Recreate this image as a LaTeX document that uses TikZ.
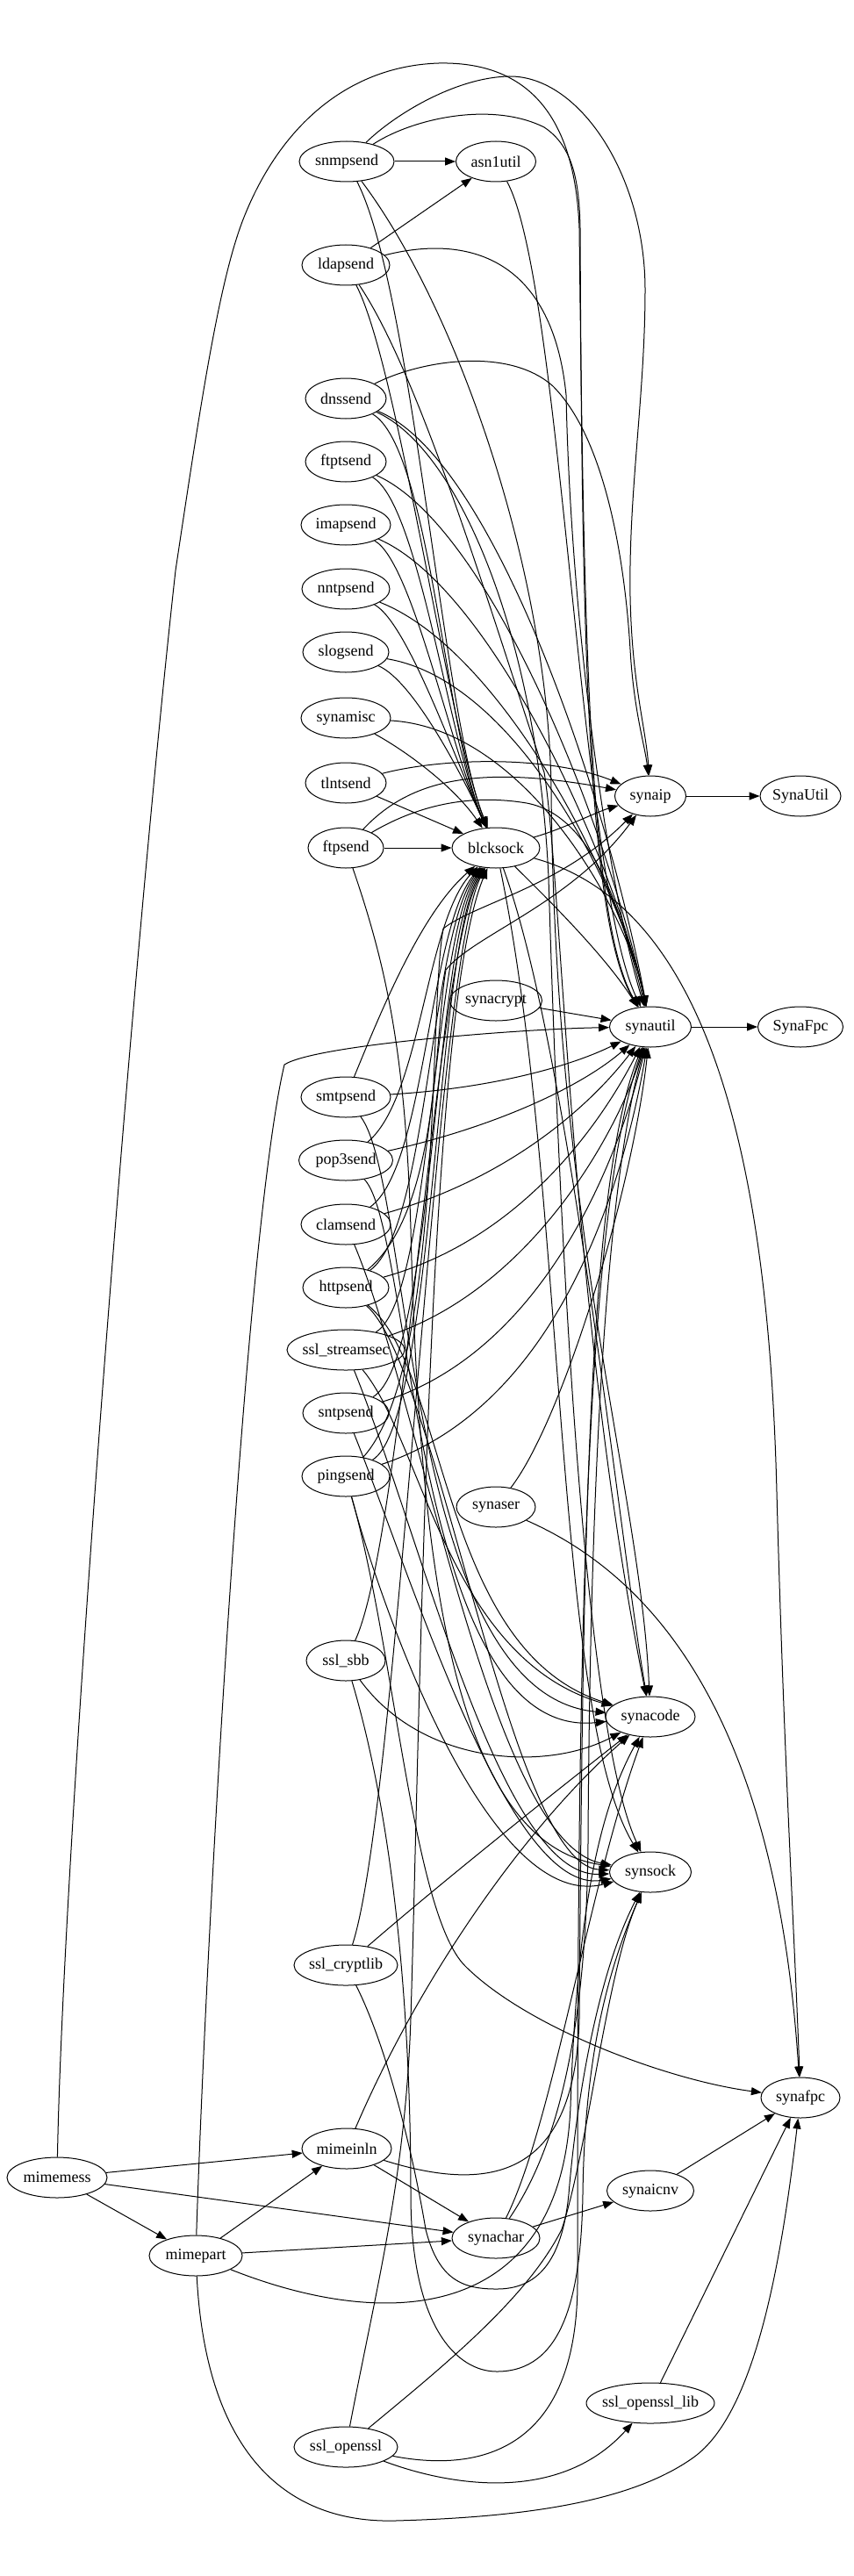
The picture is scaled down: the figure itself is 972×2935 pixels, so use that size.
\documentclass[tikz,border=0pt]{standalone}
\usepackage{fontspec}
\setmainfont{Liberation Serif}
\usetikzlibrary{arrows.meta,shapes.geometric}
\begin{document}
\begin{tikzpicture}[x=1pt,y=-1pt,
  nd/.style={ellipse,draw,line width=1pt,minimum height=46pt,inner xsep=-40pt,inner ysep=0pt,font=\fontsize{18}{20}\selectfont},
  e/.style={line width=1pt,-{Triangle[length=12pt,width=9pt]}}]
\fill[white] (0,0) rectangle (972,2935);
\useasboundingbox (0,0) rectangle (972,2935);
% nodes
\node[nd,minimum width=108pt] (snmpsend) at (395,184) {snmpsend};
\node[nd,minimum width=91pt] (asnutil) at (565,184) {asn1util};
\node[nd,minimum width=100pt] (ldapsend) at (394,302) {ldapsend};
\node[nd,minimum width=92pt] (dnssend) at (394,454) {dnssend};
\node[nd,minimum width=92pt] (ftptsend) at (394,526) {ftptsend};
\node[nd,minimum width=102pt] (imapsend) at (394,598) {imapsend};
\node[nd,minimum width=100pt] (nntpsend) at (394,671) {nntpsend};
\node[nd,minimum width=98pt] (slogsend) at (394,743) {slogsend};
\node[nd,minimum width=102pt] (synamisc) at (394,818) {synamisc};
\node[nd,minimum width=92pt] (tlntsend) at (394,892) {tlntsend};
\node[nd,minimum width=86pt] (ftpsend) at (394,966) {ftpsend};
\node[nd,minimum width=100pt] (blcksock) at (565,966) {blcksock};
\node[nd,minimum width=81pt] (synaip) at (741,907) {synaip};
\node[nd,minimum width=92pt] (SynaUtil) at (912,907) {SynaUtil};
\node[nd,minimum width=105pt] (synacrypt) at (565,1140) {synacrypt};
\node[nd,minimum width=93pt] (synautil) at (741,1170) {synautil};
\node[nd,minimum width=97pt] (SynaFpc) at (912,1170) {SynaFpc};
\node[nd,minimum width=102pt] (smtpsend) at (394,1250) {smtpsend};
\node[nd,minimum width=107pt] (pop3send) at (394,1322) {pop3send};
\node[nd,minimum width=102pt] (clamsend) at (394,1395) {clamsend};
\node[nd,minimum width=98pt] (httpsend) at (394,1467) {httpsend};
\node[nd,minimum width=134pt] (sslstreamsec) at (394,1538) {ssl\_streamsec};
\node[nd,minimum width=98pt] (sntpsend) at (394,1610) {sntpsend};
\node[nd,minimum width=100pt] (pingsend) at (394,1682) {pingsend};
\node[nd,minimum width=90pt] (synaser) at (565,1717) {synaser};
\node[nd,minimum width=90pt] (sslsbb) at (394,1892) {ssl\_sbb};
\node[nd,minimum width=102pt] (synacode) at (741,1956) {synacode};
\node[nd,minimum width=93pt] (synsock) at (741,2133) {synsock};
\node[nd,minimum width=118pt] (sslcryptlib) at (394,2239) {ssl\_cryptlib};
\node[nd,minimum width=90pt] (synafpc) at (912,2390) {synafpc};
\node[nd,minimum width=102pt] (mimeinln) at (395,2448) {mimeinln};
\node[nd,minimum width=99pt] (synaicnv) at (741,2496) {synaicnv};
\node[nd,minimum width=100pt] (synachar) at (565,2550) {synachar};
\node[nd,minimum width=146pt] (sslopensslLib) at (741,2738) {ssl\_openssl\_lib};
\node[nd,minimum width=118pt] (sslopenssl) at (394,2788) {ssl\_openssl};
\node[nd,minimum width=114pt] (mimemess) at (65,2481) {mimemess};
\node[nd,minimum width=106pt] (mimepart) at (223,2570) {mimepart};
% straight edges
\draw[e] (snmpsend) -- (asnutil);
\draw[e] (ldapsend) -- (asnutil);
\draw[e] (tlntsend) -- (blcksock);
\draw[e] (ftpsend) -- (blcksock);
\draw[e] (synaip) -- (SynaUtil);
\draw[e] (synautil) -- (SynaFpc);
\draw[e] (synacrypt) -- (synautil);
\draw[e] (mimemess) -- (mimeinln);
\draw[e] (mimemess) -- (mimepart);
\draw[e] (mimemess) -- (synachar);
\draw[e] (mimepart) -- (mimeinln);
\draw[e] (mimepart) -- (synachar);
\draw[e] (mimeinln) -- (synachar);
\draw[e] (synachar) -- (synaicnv);
\draw[e] (synaicnv) -- (synafpc);
\draw[e] (sslopensslLib) -- (synafpc);
% -> blcksock from above
\draw[e] (snmpsend) .. controls (470,330) and (505,820) .. (blcksock);
\draw[e] (ldapsend) .. controls (455,420) and (510,830) .. (blcksock);
\draw[e] (dnssend) .. controls (490,510) and (508,840) .. (blcksock);
\draw[e] (ftptsend) .. controls (478,575) and (512,850) .. (blcksock);
\draw[e] (imapsend) .. controls (470,640) and (515,860) .. (blcksock);
\draw[e] (nntpsend) .. controls (465,710) and (520,870) .. (blcksock);
\draw[e] (slogsend) .. controls (470,775) and (525,880) .. (blcksock);
\draw[e] (synamisc) .. controls (470,860) and (520,900) .. (blcksock);
% -> blcksock from below
\draw[e] (smtpsend) .. controls (435,1150) and (480,1040) .. (blcksock);
\draw[e] (pop3send) .. controls (480,1250) and (485,1050) .. (blcksock);
\draw[e] (clamsend) .. controls (485,1330) and (488,1060) .. (blcksock);
\draw[e] (httpsend) .. controls (488,1400) and (490,1065) .. (blcksock);
\draw[e] (sslstreamsec) .. controls (492,1480) and (492,1070) .. (blcksock);
\draw[e] (sntpsend) .. controls (495,1550) and (494,1075) .. (blcksock);
\draw[e] (pingsend) .. controls (495,1620) and (496,1080) .. (blcksock);
\draw[e] (sslsbb) .. controls (460,1750) and (495,1090) .. (blcksock);
\draw[e] (sslcryptlib) .. controls (455,2050) and (495,1100) .. (blcksock);
\draw[e] (sslopenssl) .. controls (430,2600) and (462,2480) .. (468,2300) .. controls (480,1900) and (488,1150) .. (blcksock);
% -> synautil from above
\draw[e] (asnutil) .. controls (640,320) and (660,1000) .. (synautil);
\draw[e] (snmpsend) .. controls (470,135) and (560,115) .. (620,145) .. controls (650,165) and (660,200) .. (661,260) .. controls (663,700) and (668,1050) .. (synautil);
\draw[e] (mimemess) .. controls (72,2100) and (150,1100) .. (200,650) .. controls (230,450) and (250,320) .. (277,250) .. controls (320,140) and (400,75) .. (500,72) .. controls (600,70) and (655,130) .. (660,260) .. controls (665,700) and (670,1050) .. (synautil);
\draw[e] (ldapsend) .. controls (540,265) and (630,300) .. (645,450) .. controls (650,700) and (690,1000) .. (synautil);
\draw[e] (dnssend) .. controls (560,520) and (690,900) .. (synautil);
\draw[e] (ftptsend) .. controls (560,600) and (695,950) .. (synautil);
\draw[e] (imapsend) .. controls (560,670) and (700,980) .. (synautil);
\draw[e] (nntpsend) .. controls (570,740) and (705,1000) .. (synautil);
\draw[e] (slogsend) .. controls (590,775) and (710,1020) .. (synautil);
\draw[e] (synamisc) .. controls (600,830) and (715,1040) .. (synautil);
\draw[e] (ftpsend) .. controls (480,915) and (540,905) .. (600,915) .. controls (680,930) and (710,1050) .. (synautil);
\draw[e] (blcksock) .. controls (630,1030) and (690,1090) .. (synautil);
% -> synautil from left / below
\draw[e] (mimepart) .. controls (235,2200) and (280,1400) .. (324,1213) .. controls (360,1190) and (600,1172) .. (synautil);
\draw[e] (smtpsend) .. controls (560,1240) and (650,1215) .. (synautil);
\draw[e] (pop3send) .. controls (560,1285) and (660,1240) .. (synautil);
\draw[e] (clamsend) .. controls (590,1340) and (680,1250) .. (synautil);
\draw[e] (httpsend) .. controls (600,1410) and (690,1270) .. (synautil);
\draw[e] (sslstreamsec) .. controls (600,1470) and (700,1300) .. (synautil);
\draw[e] (sntpsend) .. controls (620,1540) and (705,1320) .. (synautil);
\draw[e] (pingsend) .. controls (640,1600) and (712,1340) .. (synautil);
\draw[e] (synaser) .. controls (640,1620) and (720,1360) .. (synautil);
\draw[e] (mimeinln) .. controls (560,2500) and (655,2480) .. (660,2300) .. controls (664,1800) and (668,1350) .. (synautil);
\draw[e] (synachar) .. controls (640,2440) and (668,2300) .. (670,2100) .. controls (672,1700) and (690,1350) .. (synautil);
\draw[e] (sslopenssl) .. controls (560,2820) and (658,2780) .. (658,2600) .. controls (658,2000) and (660,1400) .. (synautil);
% -> synaip
\draw[e] (snmpsend) .. controls (450,130) and (520,88) .. (580,87) .. controls (660,86) and (735,200) .. (735,330) .. controls (735,450) and (716,560) .. (718,680) .. controls (720,780) and (736,830) .. (synaip);
\draw[e] (dnssend) .. controls (480,410) and (580,395) .. (630,440) .. controls (690,500) and (712,640) .. (718,740) .. controls (722,810) and (735,850) .. (synaip);
\draw[e] (tlntsend) .. controls (510,862) and (630,862) .. (synaip);
\draw[e] (ftpsend) .. controls (465,890) and (540,870) .. (synaip);
\draw[e] (blcksock) .. controls (640,945) and (680,925) .. (synaip);
\draw[e] (httpsend) .. controls (500,1380) and (495,1180) .. (508,1105) .. controls (540,1065) and (650,1030) .. (synaip);
\draw[e] (pingsend) .. controls (505,1560) and (488,1150) .. (505,1058) .. controls (540,1030) and (640,1010) .. (synaip);
% -> synacode
\draw[e] (snmpsend) .. controls (520,350) and (625,650) .. (628,900) .. controls (632,1400) and (730,1700) .. (synacode);
\draw[e] (ldapsend) .. controls (480,430) and (560,700) .. (620,880) .. controls (640,1000) and (650,1500) .. (synacode);
\draw[e] (blcksock) .. controls (650,1200) and (705,1750) .. (synacode);
\draw[e] (smtpsend) .. controls (470,1350) and (460,1930) .. (synacode);
\draw[e] (pop3send) .. controls (470,1400) and (470,1985) .. (synacode);
\draw[e] (httpsend) .. controls (510,1560) and (500,1880) .. (synacode);
\draw[e] (sslstreamsec) .. controls (480,1640) and (510,1890) .. (synacode);
\draw[e] (sslsbb) .. controls (480,2010) and (620,2020) .. (synacode);
\draw[e] (sslcryptlib) .. controls (520,2130) and (660,2020) .. (synacode);
\draw[e] (mimeinln) .. controls (480,2250) and (600,2080) .. (synacode);
\draw[e] (mimepart) .. controls (450,2660) and (640,2640) .. (650,2400) .. controls (658,2150) and (690,2050) .. (synacode);
\draw[e] (synachar) .. controls (630,2420) and (670,2150) .. (synacode);
% -> synsock
\draw[e] (dnssend) .. controls (520,510) and (612,720) .. (625,1000) .. controls (640,1500) and (670,1980) .. (synsock);
\draw[e] (ftpsend) .. controls (440,1100) and (462,1200) .. (468,1400) .. controls (478,1800) and (520,2100) .. (synsock);
\draw[e] (blcksock) .. controls (645,1350) and (630,1950) .. (synsock);
\draw[e] (clamsend) .. controls (480,1600) and (560,2100) .. (synsock);
\draw[e] (httpsend) .. controls (500,1560) and (580,2125) .. (synsock);
\draw[e] (sslstreamsec) .. controls (480,1750) and (570,2140) .. (synsock);
\draw[e] (sntpsend) .. controls (470,1800) and (580,2160) .. (synsock);
\draw[e] (pingsend) .. controls (440,1850) and (560,2180) .. (synsock);
\draw[e] (sslsbb) .. controls (450,2080) and (468,2300) .. (468,2500) .. controls (468,2650) and (520,2702) .. (566,2702) .. controls (640,2702) and (662,2620) .. (664,2500) .. controls (666,2350) and (690,2250) .. (synsock);
\draw[e] (sslcryptlib) .. controls (440,2330) and (470,2450) .. (485,2540) .. controls (500,2600) and (530,2608) .. (566,2608) .. controls (610,2608) and (640,2580) .. (648,2500) .. controls (656,2400) and (680,2250) .. (synsock);
\draw[e] (sslopenssl) .. controls (500,2700) and (600,2620) .. (640,2540) .. controls (670,2450) and (690,2250) .. (synsock);
% -> synafpc
\draw[e] (blcksock) .. controls (800,1030) and (875,1300) .. (885,1700) .. controls (893,2000) and (905,2200) .. (synafpc);
\draw[e] (synaser) .. controls (800,1820) and (890,2050) .. (synafpc);
\draw[e] (pingsend) .. controls (450,1880) and (470,2180) .. (530,2240) .. controls (600,2310) and (760,2370) .. (synafpc);
\draw[e] (mimepart) .. controls (235,2800) and (330,2875) .. (450,2872) .. controls (600,2868) and (720,2850) .. (790,2800) .. controls (860,2750) and (890,2580) .. (synafpc);
% -> ssl_openssl_lib
\draw[e] (sslopenssl) .. controls (520,2835) and (640,2850) .. (sslopensslLib);
\end{tikzpicture}
\end{document}
